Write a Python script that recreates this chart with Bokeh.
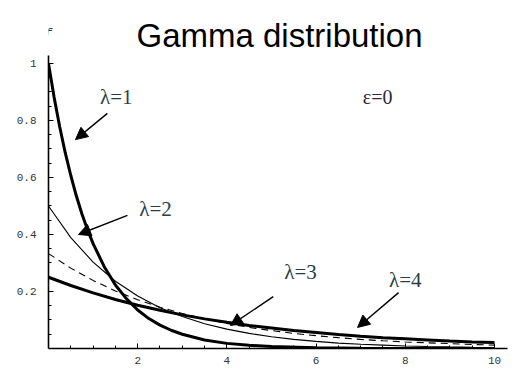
from bokeh.plotting import figure
from bokeh.models import FixedTicker, Range1d, Arrow, NormalHead, ColumnDataSource
from bokeh.core.properties import value
from bokeh.embed import file_html
from bokeh.resources import INLINE

# ---- data ----
x_vals = [0, 0.5, 1, 1.5, 2, 2.5, 3, 3.5, 4, 4.5, 5, 5.5, 6, 6.5, 7, 7.5, 8, 8.5, 9, 9.5, 10]
x_lam1 = [0, 0.125, 0.25, 0.375, 0.5, 0.625, 0.75, 0.875, 1, 1.25, 1.5, 1.75, 2, 2.25,
          2.5, 2.75, 3, 3.5, 4, 4.5, 5, 6, 7, 8, 9, 10]
f_lam1 = [1.0, 0.882, 0.779, 0.687, 0.607, 0.535, 0.472, 0.417, 0.368, 0.287, 0.223,
          0.174, 0.135, 0.105, 0.082, 0.064, 0.050, 0.030, 0.018, 0.011, 0.007,
          0.0025, 0.001, 0.0003, 0.0001, 0.0]
f_lam2 = [0.5, 0.389, 0.303, 0.236, 0.184, 0.143, 0.112, 0.087, 0.068, 0.053, 0.041,
          0.032, 0.025, 0.019, 0.015, 0.012, 0.009, 0.007, 0.0056, 0.0043, 0.0034]
f_lam3 = [0.333, 0.282, 0.239, 0.202, 0.171, 0.145, 0.123, 0.104, 0.088, 0.074, 0.063,
          0.053, 0.045, 0.038, 0.032, 0.027, 0.023, 0.020, 0.017, 0.014, 0.012]
f_lam4 = [0.25, 0.221, 0.195, 0.172, 0.152, 0.134, 0.118, 0.104, 0.092, 0.081, 0.072,
          0.063, 0.056, 0.049, 0.043, 0.038, 0.034, 0.030, 0.026, 0.023, 0.021]

x_ticks = [2, 4, 6, 8, 10]
x_minor = [0.5, 1, 1.5, 2.5, 3, 3.5, 4.5, 5, 5.5, 6.5, 7, 7.5, 8.5, 9, 9.5]
y_ticks = [0.2, 0.4, 0.6, 0.8, 1.0]
y_minor = [0.05, 0.1, 0.15, 0.25, 0.3, 0.35, 0.45, 0.5, 0.55, 0.65, 0.7, 0.75,
           0.85, 0.9, 0.95]

title_text = "Gamma distribution"
curve_labels = ["λ=1", "λ=2", "λ=3", "λ=4"]
label_x = [1.52, 2.40, 5.65, 8.0]
label_y = [0.881, 0.491, 0.267, 0.239]
arrow_tail_x = [1.32, 1.77, 5.04, 7.85]
arrow_tail_y = [0.825, 0.467, 0.182, 0.196]
arrow_head_x = [0.605, 0.673, 4.08, 6.93]
arrow_head_y = [0.733, 0.400, 0.081, 0.074]

p = figure(width=522, height=373, output_backend="svg", toolbar_location=None,
           x_range=Range1d(0, 10.628), y_range=Range1d(0, 1.221),
           min_border_left=48, min_border_right=0, min_border_top=0,
           min_border_bottom=25)
p.outline_line_color = None
p.xgrid.visible = False
p.ygrid.visible = False
p.background_fill_color = "white"
p.border_fill_color = "white"

for ax in (p.xaxis[0], p.yaxis[0]):
    ax.axis_line_color = "black"
    ax.axis_line_width = 1.6
    ax.major_tick_line_color = "black"
    ax.minor_tick_line_color = "black"
    ax.major_tick_in = 5
    ax.major_tick_out = 0
    ax.minor_tick_in = 3
    ax.minor_tick_out = 0
    ax.major_label_text_font = "Liberation Mono"
    ax.major_label_text_font_size = "11px"
    ax.major_label_text_color = "#333333"

p.xaxis[0].ticker = FixedTicker(ticks=x_ticks, minor_ticks=x_minor)
p.yaxis[0].ticker = FixedTicker(ticks=y_ticks, minor_ticks=y_minor)
p.yaxis[0].major_label_overrides = {1: "1"}
p.xaxis[0].bounds = (0, 10.3)
p.yaxis[0].bounds = (0, 1.028)
p.xaxis[0].major_label_standoff = 8
p.yaxis[0].major_label_standoff = 12

p.line(x_lam1, f_lam1, line_color="black", line_width=3)
p.line(x_vals, f_lam2, line_color="black", line_width=1.1)
p.line(x_vals, f_lam3, line_color="black", line_width=1.1, line_dash="7 5")
p.line(x_vals, f_lam4, line_color="black", line_width=3)

for tx, ty, hx, hy in zip(arrow_tail_x, arrow_tail_y, arrow_head_x, arrow_head_y):
    p.add_layout(Arrow(end=NormalHead(size=12, fill_color="black", line_color="black"),
                       x_start=tx, y_start=ty, x_end=hx, y_end=hy,
                       line_color="black", line_width=1.4))

src = ColumnDataSource(dict(x=label_x, y=label_y, t=curve_labels))
p.text(x="x", y="y", text="t", source=src, text_font=value("Liberation Serif"),
       text_font_size="21px", text_align="center", text_baseline="middle",
       text_color="#27403f")

p.text(x=[7.38], y=[0.881], text=["ε=0"], text_font=value("Liberation Serif"),
       text_font_size="20px", text_align="center", text_baseline="middle",
       text_color="#2d2838")

p.text(x=[5.18], y=[1.098], text=[title_text], text_font=value("Liberation Sans"),
       text_font_size="33px", text_align="center", text_baseline="alphabetic",
       text_color="black")

p.text(x=[0.0], y=[1.105], text=["f"], text_font=value("Liberation Mono"),
       text_font_size="13px", text_font_style="italic", text_align="center",
       text_baseline="middle", text_color="#333333")

open("out.html", "w").write(file_html(p, INLINE))
